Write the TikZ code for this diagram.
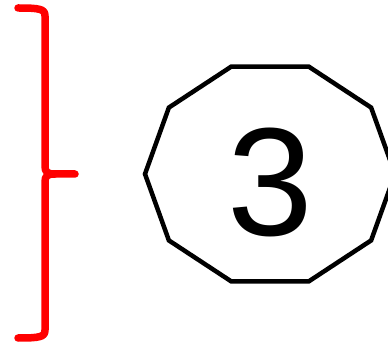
\documentclass[tikz,border=0pt]{standalone}
\usepackage{fontspec}
\setmainfont{Liberation Sans}
\usetikzlibrary{calc}
\begin{document}
\begin{tikzpicture}[x=1pt,y=-1pt,
  bracestyle/.style={draw=red,line width=7.5pt,line cap=round,line join=round},
  polystyle/.style={draw=black,line width=4.5pt,line join=miter}]
\useasboundingbox (0,0) rectangle (388,347);
% brace
\coordinate (btop) at (18,8);
\coordinate (bbot) at (18,338);
\coordinate (btip) at (75,174);
\draw[bracestyle] (btop) .. controls (40,8) and (45,9) .. (45,16)
  -- (45,166) .. controls (45,172) and (47,174) .. (55,174) -- (btip);
\draw[bracestyle] (bbot) .. controls (40,338) and (45,337) .. (45,330)
  -- (45,182) .. controls (45,176) and (47,174) .. (55,174);
% decagon
\coordinate (c) at (270,174);
\draw[polystyle] ($(c)+(0:125 and 113)$)
  \foreach \a in {36,72,...,324} { -- ($(c)+(\a:125 and 113)$) } -- cycle;
\node (three) at (270,182) {\fontsize{154}{154}\selectfont 3};
\end{tikzpicture}
\end{document}
